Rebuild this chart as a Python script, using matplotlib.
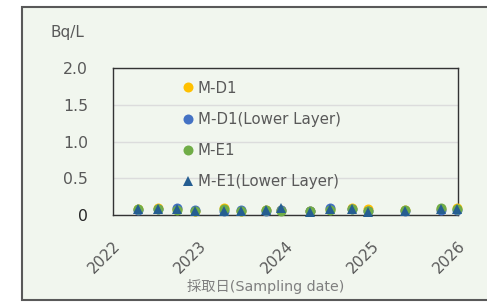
import matplotlib
matplotlib.use('Agg')
import matplotlib.pyplot as plt
import matplotlib.dates as mdates
import pandas as pd
from matplotlib.patches import Rectangle

plt.rcParams['font.family'] = ['DejaVu Sans', 'Noto Sans CJK JP']

# sampling dates and concentrations (Bq/L)
dates = pd.to_datetime([
    '2022-04-17', '2022-07-10', '2022-10-01', '2022-12-14',
    '2023-04-15', '2023-06-29', '2023-10-13', '2023-12-15',
    '2024-04-13', '2024-07-07', '2024-10-07', '2024-12-14',
    '2025-05-21', '2025-10-19', '2025-12-28'])
md1 = [0.08, 0.09, 0.08, 0.06, 0.10, 0.06, 0.07, 0.07,
       0.06, 0.08, 0.10, 0.08, 0.07, 0.08, 0.10]
md1_lower = [0.07, 0.08, 0.09, 0.07, 0.06, 0.07, 0.06, 0.07,
             0.05, 0.09, 0.08, 0.06, 0.06, 0.07, 0.07]
me1 = [0.08, 0.08, 0.07, 0.06, 0.08, 0.06, 0.07, 0.06,
       0.05, 0.07, 0.08, 0.06, 0.07, 0.09, 0.08]
me1_lower = [0.08, 0.08, 0.08, 0.05, 0.05, 0.06, 0.07, 0.09,
             0.04, 0.08, 0.08, 0.04, 0.06, 0.08, 0.08]

series = [
    ('M-D1', md1, '#FFC000', 'o'),
    ('M-D1(Lower Layer)', md1_lower, '#4472C4', 'o'),
    ('M-E1', me1, '#70AD47', 'o'),
    ('M-E1(Lower Layer)', me1_lower, '#255E91', '^'),
]

bg = '#f1f6ee'
text_col = '#595959'

fig = plt.figure(figsize=(4.87, 3.02), dpi=100, facecolor='white')
fig.patches.append(Rectangle((22 / 487, 1 - 300 / 302), 1.0, (300 - 7) / 302,
                             transform=fig.transFigure, facecolor=bg,
                             edgecolor='#595959', linewidth=1.5, zorder=-5))

ax = fig.add_axes([113 / 487, 1 - 215 / 302, 345 / 487, 147 / 302])
ax.set_facecolor('none')
ax.set_zorder(2)

for label, vals, color, marker in series:
    ax.plot(dates, vals, linestyle='none', marker=marker, markersize=7.2,
            color=color, markeredgewidth=0, label=label, clip_on=False,
            zorder=3)

ax.set_ylim(0, 2.0)
ax.set_yticks([0, 0.5, 1.0, 1.5, 2.0])
ax.set_yticklabels(['0', '0.5', '1.0', '1.5', '2.0'])
ax.set_xlim(pd.Timestamp('2022-01-01'), pd.Timestamp('2026-01-01'))
ax.xaxis.set_major_locator(mdates.YearLocator())
ax.xaxis.set_major_formatter(mdates.DateFormatter('%Y'))

ax.grid(axis='y', color='#dcdcdc', linewidth=1)
ax.set_axisbelow(True)
for s in ax.spines.values():
    s.set_color('#333333')
    s.set_linewidth(1)

ax.tick_params(axis='y', length=0, pad=18, labelsize=11.3, labelcolor='#595959')
ax.tick_params(axis='x', length=0, pad=17, labelsize=11, labelcolor=text_col)
ax.get_yticklabels()[0].set_color('#262626')
for lbl in ax.get_xticklabels():
    lbl.set_rotation(45)
    lbl.set_ha('right')
    lbl.set_rotation_mode('anchor')

fig.text(67 / 487, 1 - 32 / 302, 'Bq/L', ha='center', va='center',
         fontsize=11, color='#595959')
ax.set_xlabel('採取日(Sampling date)', fontsize=10.3, color='#7f7f7f',
              va='center')
ax.xaxis.set_label_coords((266 - 113) / 345, (215 - 286) / 147)

ax.legend(loc='upper left', bbox_to_anchor=(0.169, 0.995), frameon=False,
          fontsize=10.8, labelcolor=text_col, handlelength=0.6,
          handletextpad=0.35, labelspacing=1.08, borderpad=0.3)

fig.savefig('out.png', dpi=100, facecolor='white')
